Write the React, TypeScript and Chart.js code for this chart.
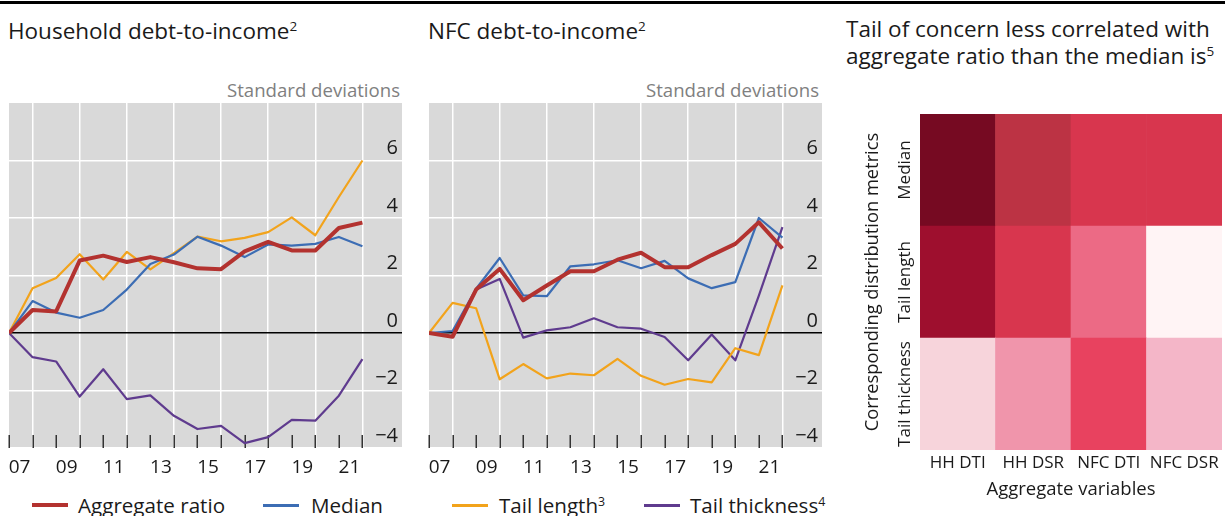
import React, { useEffect, useRef } from 'react';
import { Chart, registerables } from 'chart.js';

Chart.register(...registerables);

const FONT = "'Open Sans', 'Noto Sans', sans-serif";

// ---------- Data ----------
const years = [2007, 2008, 2009, 2010, 2011, 2012, 2013, 2014, 2015, 2016, 2017, 2018, 2019, 2020, 2021, 2022];
const xTickLabels = ['07', '09', '11', '13', '15', '17', '19', '21'];
const yTickValues = [-4, -2, 0, 2, 4, 6];

const hhAggregate = [0, 0.8, 0.75, 2.52, 2.69, 2.47, 2.64, 2.46, 2.25, 2.22, 2.84, 3.17, 2.87, 2.87, 3.65, 3.84];
const hhMedian = [0, 1.11, 0.71, 0.53, 0.8, 1.51, 2.4, 2.73, 3.35, 3.04, 2.64, 3.08, 3.04, 3.1, 3.34, 3.02];
const hhTailLength = [0, 1.56, 1.91, 2.74, 1.86, 2.82, 2.21, 2.78, 3.35, 3.19, 3.31, 3.51, 4.02, 3.4, 4.73, 6.0];
const hhTailThickness = [0, -0.84, -0.99, -2.21, -1.26, -2.3, -2.17, -2.88, -3.34, -3.23, -3.83, -3.62, -3.02, -3.05, -2.18, -0.91];

const nfcAggregate = [0, -0.13, 1.51, 2.23, 1.14, 1.65, 2.15, 2.15, 2.55, 2.79, 2.29, 2.29, 2.71, 3.1, 3.85, 2.94];
const nfcMedian = [0, 0.07, 1.54, 2.61, 1.31, 1.28, 2.32, 2.39, 2.53, 2.25, 2.51, 1.9, 1.56, 1.77, 4.0, 3.32];
const nfcTailLength = [0, 1.05, 0.86, -1.61, -1.08, -1.58, -1.41, -1.47, -0.9, -1.49, -1.8, -1.6, -1.72, -0.53, -0.77, 1.66];
const nfcTailThickness = [0, -0.13, 1.51, 1.88, -0.16, 0.09, 0.2, 0.51, 0.2, 0.15, -0.14, -0.95, -0.05, -0.95, 1.3, 3.68];

const heatCols = ['HH DTI', 'HH DSR', 'NFC DTI', 'NFC DSR'];
const heatRowsBottomUp = ['Tail thickness', 'Tail length', 'Median'];
const corrMedian = [0.95, 0.75, 0.65, 0.65];
const corrTailLength = [0.85, 0.65, 0.5, 0.05];
const corrTailThickness = [0.2, 0.4, 0.6, 0.3];

// ---------- Styles ----------
const COLORS = {
  aggregate: '#b3322f',
  median: '#3c6db4',
  tailLength: '#f2a31b',
  tailThickness: '#5f3b8e',
};

const colorStops: [number, string][] = [
  [0.05, '#fff4f5'],
  [0.2, '#f7d4db'],
  [0.3, '#f4b6c8'],
  [0.4, '#f095ab'],
  [0.5, '#ec6a85'],
  [0.6, '#e8425f'],
  [0.65, '#d8364e'],
  [0.75, '#bc3344'],
  [0.85, '#9e0f2e'],
  [0.95, '#760a22'],
];

function hexToRgb(h: string) {
  const n = parseInt(h.slice(1), 16);
  return [(n >> 16) & 255, (n >> 8) & 255, n & 255];
}
function colorFor(v: number) {
  if (v <= colorStops[0][0]) return colorStops[0][1];
  for (let i = 1; i < colorStops.length; i++) {
    const [v1, c1] = colorStops[i];
    const [v0, c0] = colorStops[i - 1];
    if (v <= v1) {
      const t = (v - v0) / (v1 - v0);
      const a = hexToRgb(c0), b = hexToRgb(c1);
      const m = a.map((x, k) => Math.round(x + (b[k] - x) * t));
      return `rgb(${m[0]},${m[1]},${m[2]})`;
    }
  }
  return colorStops[colorStops.length - 1][1];
}

const X_MIN = 2007;
const X_MAX = 2023.68;

const panelDecor = {
  id: 'panelDecor',
  beforeDraw(chart: any) {
    const { ctx, chartArea: a } = chart;
    ctx.save();
    ctx.fillStyle = '#d9d9d9';
    ctx.fillRect(a.left, a.top, a.right - a.left, a.bottom - a.top);
    ctx.restore();
  },
  beforeDatasetsDraw(chart: any) {
    const { ctx, chartArea: a } = chart;
    const xs = chart.scales.x;
    ctx.save();
    ctx.strokeStyle = '#333';
    ctx.lineWidth = 1.5;
    years.forEach((yr) => {
      const px = Math.round(xs.getPixelForValue(yr)) + 0.25;
      ctx.beginPath();
      ctx.moveTo(px, a.bottom - 13);
      ctx.lineTo(px, a.bottom);
      ctx.stroke();
    });
    ctx.restore();
  },
};

function lineDataset(label: string, values: number[], color: string, width: number) {
  return {
    label,
    data: years.map((yr, i) => ({ x: yr, y: values[i] })),
    borderColor: color,
    backgroundColor: color,
    borderWidth: width,
    pointRadius: 0,
    tension: 0,
    fill: false,
    borderJoinStyle: 'round' as const,
  };
}

function LinePanel(props: { left: number; agg: number[]; med: number[]; tl: number[]; tt: number[] }) {
  const ref = useRef<HTMLCanvasElement>(null);
  useEffect(() => {
    const chart = new Chart(ref.current as HTMLCanvasElement, {
      type: 'line',
      data: {
        datasets: [
          lineDataset('Aggregate ratio', props.agg, COLORS.aggregate, 4),
          lineDataset('Median', props.med, COLORS.median, 2.2),
          lineDataset('Tail length', props.tl, COLORS.tailLength, 2.2),
          lineDataset('Tail thickness', props.tt, COLORS.tailThickness, 2.2),
        ],
      } as any,
      options: {
        animation: false,
        responsive: false,
        devicePixelRatio: 1,
        layout: { padding: { top: 8, left: 9, right: 8, bottom: 0 } },
        plugins: { legend: { display: false }, tooltip: { enabled: false } },
        scales: {
          x: {
            type: 'linear',
            min: X_MIN,
            max: X_MAX,
            afterBuildTicks: (s: any) => {
              s.ticks = years.filter((y) => y % 2 === 1).map((y) => ({ value: y + 0.45 }));
            },
            afterFit: (s: any) => {
              s.height = 31;
              s.paddingLeft = 0;
              s.paddingRight = 0;
            },
            ticks: {
              autoSkip: false,
              maxRotation: 0,
              padding: 8,
              color: '#1a1a1a',
              font: { family: FONT, size: 19 },
              callback: (_v: any, i: number) => xTickLabels[i],
            },
            grid: { display: false, drawTicks: false },
            border: { display: false },
          },
          xg: {
            type: 'linear',
            axis: 'x',
            position: 'bottom',
            min: X_MIN,
            max: X_MAX,
            afterBuildTicks: (s: any) => {
              s.ticks = years.filter((y) => y % 2 === 0).map((y) => ({ value: y }));
            },
            afterFit: (s: any) => {
              s.height = 0;
              s.paddingLeft = 0;
              s.paddingRight = 0;
            },
            ticks: { display: false },
            grid: { color: '#ffffff', lineWidth: 1.5, drawTicks: false },
            border: { display: false },
          },
          y: {
            type: 'linear',
            position: 'right',
            min: -4,
            max: 8,
            afterBuildTicks: (s: any) => {
              s.ticks = yTickValues.map((v) => ({ value: v }));
            },
            afterFit: (s: any) => {
              s.width = 0;
              s.paddingTop = 0;
              s.paddingBottom = 0;
            },
            ticks: {
              mirror: true,
              padding: -4,
              labelOffset: -12,
              color: '#1a1a1a',
              font: { family: FONT, size: 20 },
              callback: (v: any) => (v < 0 ? '\u2212' + Math.abs(v) : String(v)),
            },
            grid: {
              drawTicks: false,
              lineWidth: 1.5,
              color: (c: any) => (c.tick && c.tick.value === 0 ? '#000000' : '#ffffff'),
            },
            border: { display: false },
          },
        },
      } as any,
      plugins: [panelDecor],
    });
    return () => chart.destroy();
  }, []);
  return (
    <canvas
      ref={ref}
      width={410}
      height={384}
      style={{ position: 'absolute', left: props.left, top: 95, width: 410, height: 384 }}
    />
  );
}

const rowLabelPlugin = {
  id: 'rowLabels',
  afterDraw(chart: any) {
    const { ctx, chartArea: a } = chart;
    const ys = chart.scales.y;
    ctx.save();
    ctx.fillStyle = '#1a1a1a';
    ctx.font = `17px ${FONT}`;
    ctx.textAlign = 'center';
    ctx.textBaseline = 'middle';
    heatRowsBottomUp.forEach((lab, i) => {
      const py = ys.getPixelForValue(i + 0.5);
      ctx.save();
      ctx.translate(a.left - 15, py);
      ctx.rotate(-Math.PI / 2);
      ctx.fillText(lab, 0, 0);
      ctx.restore();
    });
    ctx.restore();
  },
};

function HeatPanel() {
  const ref = useRef<HTMLCanvasElement>(null);
  useEffect(() => {
    const rows = [corrTailThickness, corrTailLength, corrMedian];
    const chart = new Chart(ref.current as HTMLCanvasElement, {
      type: 'bar',
      data: {
        labels: heatCols,
        datasets: rows.map((vals, r) => ({
          label: heatRowsBottomUp[r],
          data: heatCols.map(() => 1),
          backgroundColor: vals.map(colorFor),
          borderWidth: 0,
          barPercentage: 1,
          categoryPercentage: 1,
        })),
      },
      options: {
        animation: false,
        responsive: false,
        devicePixelRatio: 1,
        layout: { padding: { left: 22, right: 3, top: 14, bottom: 15 } },
        plugins: { legend: { display: false }, tooltip: { enabled: false } },
        scales: {
          x: {
            stacked: true,
            grid: { display: false, drawTicks: false },
            border: { display: false },
            afterFit: (s: any) => {
              s.height = 51;
              s.paddingLeft = 0;
              s.paddingRight = 0;
            },
            ticks: {
              autoSkip: false,
              maxRotation: 0,
              padding: 3,
              color: '#1a1a1a',
              font: { family: FONT, size: 17 },
            },
            title: {
              display: true,
              text: 'Aggregate variables',
              color: '#1a1a1a',
              font: { family: FONT, size: 18.5 },
              padding: { top: 6, bottom: 0 },
            },
          },
          y: {
            stacked: true,
            min: 0,
            max: 3,
            grid: { display: false, drawTicks: false },
            border: { display: false },
            ticks: { display: false },
            afterFit: (s: any) => {
              s.width = 58;
              s.paddingTop = 0;
              s.paddingBottom = 0;
            },
            title: {
              display: true,
              text: 'Corresponding distribution metrics',
              color: '#1a1a1a',
              font: { family: FONT, size: 18.3 },
              padding: { top: 0, bottom: 36 },
            },
          },
        },
      } as any,
      plugins: [rowLabelPlugin],
    });
    return () => chart.destroy();
  }, []);
  return (
    <canvas
      ref={ref}
      width={385}
      height={416}
      style={{ position: 'absolute', left: 840, top: 100, width: 385, height: 416 }}
    />
  );
}

const supStyle: React.CSSProperties = { fontSize: '0.6em', position: 'relative', top: '-0.6em' };

function Text(props: { left?: number; right?: number; top: number; size: number; lh: number; color?: string; children: any }) {
  const style: React.CSSProperties = {
    position: 'absolute',
    top: props.top,
    fontSize: props.size,
    lineHeight: props.lh + 'px',
    color: props.color || '#1a1a1a',
    whiteSpace: 'nowrap',
  };
  if (props.left !== undefined) style.left = props.left;
  if (props.right !== undefined) {
    style.right = 1225 - props.right;
    style.textAlign = 'right';
  }
  return <div style={style}>{props.children}</div>;
}

function LegendItem(props: { x: number; textX: number; color: string; h: number; children: any }) {
  return (
    <>
      <div
        style={{ position: 'absolute', left: props.x, top: 505 - props.h / 2, width: 36, height: props.h, background: props.color }}
      />
      <Text left={props.textX} top={491} size={20.6} lh={28}>
        {props.children}
      </Text>
    </>
  );
}

export default function App() {
  return (
    <div
      style={{
        position: 'absolute',
        left: 0,
        top: 0,
        width: 1225,
        height: 516,
        background: '#fff',
        fontFamily: FONT,
        overflow: 'hidden',
      }}
    >
      <div style={{ position: 'absolute', left: 0, top: 1, width: 1225, height: 3, background: '#000' }} />
      <Text left={8} top={16} size={22.5} lh={30}>
        Household debt-to-income<span style={supStyle}>2</span>
      </Text>
      <Text left={428} top={16} size={22.5} lh={30}>
        NFC debt-to-income<span style={supStyle}>2</span>
      </Text>
      <Text left={846} top={15} size={22.5} lh={27}>
        Tail of concern less correlated with
      </Text>
      <Text left={846} top={42} size={22.5} lh={27}>
        aggregate ratio than the median is<span style={supStyle}>5</span>
      </Text>
      <Text right={400} top={78} size={18.6} lh={24} color="#808080">
        Standard deviations
      </Text>
      <Text right={819} top={78} size={18.6} lh={24} color="#808080">
        Standard deviations
      </Text>

      <LinePanel left={0} agg={hhAggregate} med={hhMedian} tl={hhTailLength} tt={hhTailThickness} />
      <LinePanel left={420} agg={nfcAggregate} med={nfcMedian} tl={nfcTailLength} tt={nfcTailThickness} />
      <HeatPanel />

      <LegendItem x={32} textX={78} color={COLORS.aggregate} h={4}>
        Aggregate ratio
      </LegendItem>
      <LegendItem x={263} textX={311} color={COLORS.median} h={3}>
        Median
      </LegendItem>
      <LegendItem x={452} textX={499} color={COLORS.tailLength} h={3}>
        Tail length<span style={supStyle}>3</span>
      </LegendItem>
      <LegendItem x={644} textX={690} color={COLORS.tailThickness} h={3}>
        Tail thickness<span style={supStyle}>4</span>
      </LegendItem>
    </div>
  );
}
